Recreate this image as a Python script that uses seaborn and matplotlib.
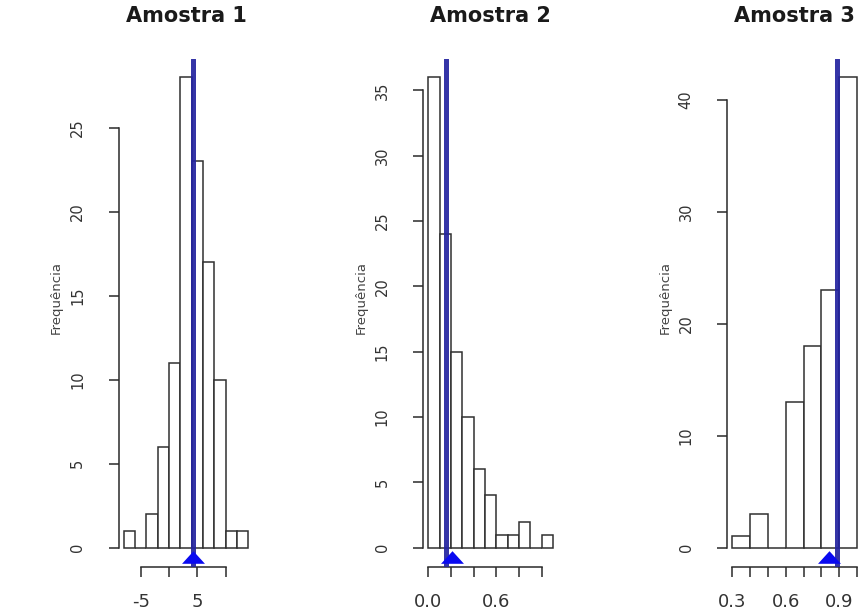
import matplotlib
matplotlib.use("Agg")
import matplotlib.pyplot as plt
import seaborn as sns
import numpy as np

# ---------------- data ----------------
titles = ["Amostra 1", "Amostra 2", "Amostra 3"]

edges1 = [-8, -6, -4, -2, 0, 2, 4, 6, 8, 10, 12, 14]
counts1 = [1, 0, 2, 6, 11, 28, 23, 17, 10, 1, 1]

edges2 = [0.0, 0.1, 0.2, 0.3, 0.4, 0.5, 0.6, 0.7, 0.8, 0.9, 1.0, 1.1]
counts2 = [36, 24, 15, 10, 6, 4, 1, 1, 2, 0, 1]

edges3 = [0.3, 0.4, 0.5, 0.6, 0.7, 0.8, 0.9, 1.0]
counts3 = [1, 3, 0, 13, 18, 23, 42]

line_values = [4.2, 0.16, 0.89]       # vertical blue line
triangle_values = [4.3, 0.21, 0.84]   # blue triangle on the axis

xticks1 = [-5, 0, 5, 10]
xlabels1 = ["-5", "", "5", ""]
xticks2 = [0.0, 0.2, 0.4, 0.6, 0.8, 1.0]
xlabels2 = ["0.0", "", "", "0.6", "", ""]
xticks3 = [0.3, 0.4, 0.5, 0.6, 0.7, 0.8, 0.9, 1.0]
xlabels3 = ["0.3", "", "", "0.6", "", "", "0.9", ""]

yticks1 = [0, 5, 10, 15, 20, 25]
yticks2 = [0, 5, 10, 15, 20, 25, 30, 35]
yticks3 = [0, 10, 20, 30, 40]

ylabel = "Frequência"

panels = [
    (edges1, counts1, xticks1, xlabels1, yticks1),
    (edges2, counts2, xticks2, xlabels2, yticks2),
    (edges3, counts3, xticks3, xlabels3, yticks3),
]

# ---------------- style ----------------
sns.set_style("white")
plt.rcParams["font.family"] = ["DejaVu Sans"]

W, H = 865, 612
fig = plt.figure(figsize=(W / 100, H / 100), dpi=100)

lefts_px = [118.7, 423.3, 727.3]
width_px = 134.7
bottom_px = 45.5
height_px = 508.0

axis_col = "#2a2a2a"
marker_verts = [(-1.0, -0.55), (1.0, -0.55), (0.0, 0.55), (-1.0, -0.55)]

for i, (edges, counts, xt, xl, yt) in enumerate(panels):
    ax = fig.add_axes([lefts_px[i] / W, bottom_px / H, width_px / W, height_px / H])
    edges_a = np.asarray(edges, dtype=float)
    centers = (edges_a[:-1] + edges_a[1:]) / 2
    sns.histplot(x=centers, weights=counts, bins=edges, ax=ax, stat="count",
                 color="white", edgecolor="#303030", linewidth=1.1, alpha=1.0)

    r = edges_a[-1] - edges_a[0]
    ax.set_xlim(edges_a[0] - 0.04 * r, edges_a[-1] + 0.04 * r)
    m = max(counts)
    ax.set_ylim(-0.04 * m, 1.04 * m)

    # blue median line and mean triangle
    ax.axvline(line_values[i], color="#2424a0", lw=3.6, alpha=0.92, zorder=4)
    ax.plot([triangle_values[i]], [0.019], transform=ax.get_xaxis_transform(),
            marker=marker_verts, markersize=16.5, color="#0a0af0",
            markeredgewidth=0, linestyle="none", zorder=5, clip_on=False)

    # R-like axes
    for s in ["top", "right"]:
        ax.spines[s].set_visible(False)
    ax.spines["left"].set_bounds(yt[0], yt[-1])
    ax.spines["bottom"].set_bounds(xt[0], xt[-1])
    for s in ["left", "bottom"]:
        ax.spines[s].set_color(axis_col)
        ax.spines[s].set_linewidth(1.1)

    ax.set_xticks(xt)
    ax.set_xticklabels(xl)
    ax.set_yticks(yt)
    ax.set_yticklabels([str(v) for v in yt])
    ax.tick_params(axis="x", direction="out", length=7.2, width=1.1, color=axis_col,
                   pad=12, labelsize=13, labelcolor="#333333", bottom=True)
    ax.tick_params(axis="y", direction="out", length=7.2, width=1.1, color=axis_col,
                   pad=17, labelsize=10.5, labelcolor="#333333", left=True,
                   labelrotation=90)
    for lab in ax.get_yticklabels():
        lab.set_va("center")

    ax.set_xlabel("")
    ax.set_ylabel(ylabel, fontsize=9.5, color="#444444")
    ax.yaxis.set_label_coords(-56 / width_px, 0.53)
    ax.set_title(titles[i], fontsize=15, fontweight="bold", color="#1a1a1a",
                 pad=26)
    ax.patch.set_alpha(0)

fig.savefig("out.png", dpi=100)
